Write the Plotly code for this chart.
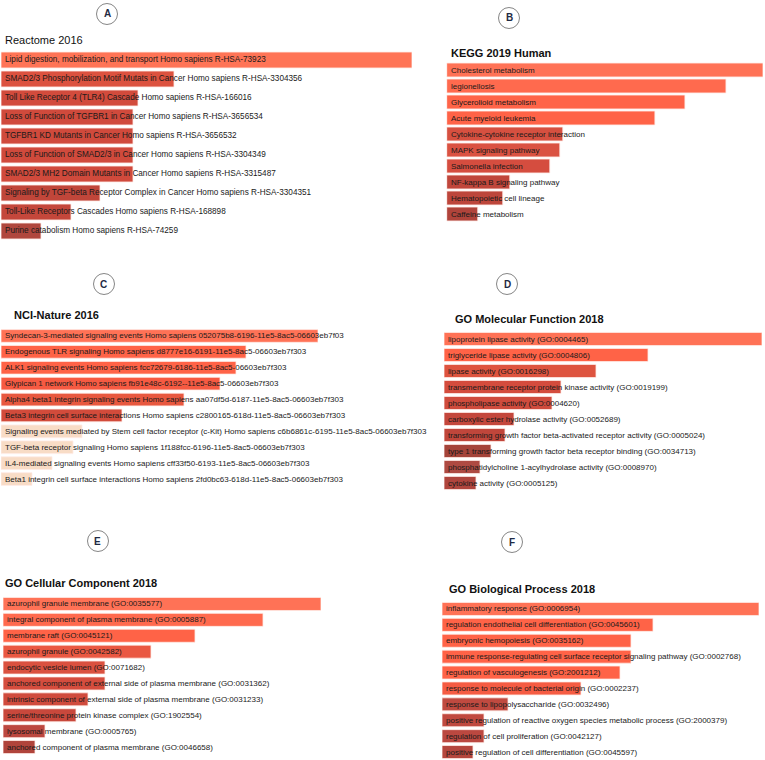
import plotly.graph_objects as go

W, H = 765, 760

# ---------------- DATA ----------------
reactome_terms = [
    "Lipid digestion, mobilization, and transport Homo sapiens R-HSA-73923",
    "SMAD2/3 Phosphorylation Motif Mutats in Cancer Homo sapiens R-HSA-3304356",
    "Toll Like Receptor 4 (TLR4) Cascade Homo sapiens R-HSA-166016",
    "Loss of Function of TGFBR1 in Cancer Homo sapiens R-HSA-3656534",
    "TGFBR1 KD Mutants in Cancer Homo sapiens R-HSA-3656532",
    "Loss of Function of SMAD2/3 in Cancer Homo sapiens R-HSA-3304349",
    "SMAD2/3 MH2 Domain Mutants in Cancer Homo sapiens R-HSA-3315487",
    "Signaling by TGF-beta Receptor Complex in Cancer Homo sapiens R-HSA-3304351",
    "Toll-Like Receptors Cascades Homo sapiens R-HSA-168898",
    "Purine catabolism Homo sapiens R-HSA-74259",
]
reactome_scores = [411, 173, 137, 132, 132, 132, 132, 99, 70, 40]

kegg_terms = [
    "Cholesterol metabolism",
    "legionellosis",
    "Glycerolioid metabolism",
    "Acute myeloid leukemia",
    "Cytokine-cytokine receptor interaction",
    "MAPK signaling pathway",
    "Salmonella infection",
    "NF-kappa B signaling pathway",
    "Hematopoietic cell lineage",
    "Caffeine metabolism",
]
kegg_scores = [316, 279, 238, 208, 116, 113, 103, 63, 56, 31]

nci_terms = [
    "Syndecan-3-mediated signaling events Homo sapiens 052075b8-6196-11e5-8ac5-06603eb7f03",
    "Endogenous TLR signaling Homo sapiens d8777e16-6191-11e5-8ac5-06603eb7f303",
    "ALK1 signaling events Homo sapiens fcc72679-6186-11e5-8ac5-06603eb7f303",
    "Glypican 1 network Homo sapiens fb91e48c-6192--11e5-8ac5-06603eb7f303",
    "Alpha4 beta1 integrin signaling events Homo sapiens aa07df5d-6187-11e5-8ac5-06603eb7f303",
    "Beta3 integrin cell surface interactions Homo sapiens c2800165-618d-11e5-8ac5-06603eb7f303",
    "Signaling events mediated by Stem cell factor receptor (c-Kit) Homo sapiens c6b6861c-6195-11e5-8ac5-06603eb7f303",
    "TGF-beta receptor signaling Homo sapiens 1f188fcc-6196-11e5-8ac5-06603eb7f303",
    "IL4-mediated signaling events Homo sapiens cff33f50-6193-11e5-8ac5-06603eb7f303",
    "Beta1 integrin cell surface interactions Homo sapiens 2fd0bc63-618d-11e5-8ac5-06603eb7f303",
]
nci_scores = [317, 245, 235, 219, 183, 121, 81, 72, 51, 31]

gomf_terms = [
    "lipoprotein lipase activity (GO:0004465)",
    "triglyceride lipase activity (GO:0004806)",
    "lipase activity (GO:0016298)",
    "transmembrane receptor protein kinase activity (GO:0019199)",
    "phospholipase activity (GO:0004620)",
    "carboxylic ester hydrolase activity (GO:0052689)",
    "transforming growth factor beta-activated receptor activity (GO:0005024)",
    "type 1 transforming growth factor beta receptor binding (GO:0034713)",
    "phosphatidylcholine 1-acylhydrolase activity (GO:0008970)",
    "cytokine activity (GO:0005125)",
]
gomf_scores = [318, 204, 152, 117, 108, 70, 61, 47, 36, 32]

gocc_terms = [
    "azurophil granule membrane (GO:0035577)",
    "integral component of plasma membrane (GO:0005887)",
    "membrane raft (GO:0045121)",
    "azurophil granule (GO:0042582)",
    "endocytic vesicle lumen (GO:0071682)",
    "anchored component of external side of plasma membrane (GO:0031362)",
    "intrinsic component of external side of plasma membrane (GO:0031233)",
    "serine/threonine protein kinase complex (GO:1902554)",
    "lysosomal membrane (GO:0005765)",
    "anchored component of plasma membrane (GO:0046658)",
]
gocc_scores = [318, 260, 192, 148, 102, 102, 85, 73, 42, 32]

gobp_terms = [
    "inflammatory response (GO:0006954)",
    "regulation endothelial cell differentiation (GO:0045601)",
    "embryonic hemopoiesis (GO:0035162)",
    "immune response-regulating cell surface receptor signaling pathway (GO:0002768)",
    "regulation of vasculogenesis (GO:2001212)",
    "response to molecule of bacterial origin (GO:0002237)",
    "response to lipopolysaccharide (GO:0032496)",
    "positive regulation of reactive oxygen species metabolic process (GO:2000379)",
    "regulation of cell proliferation (GO:0042127)",
    "positive regulation of cell differentiation (GO:0045597)",
]
gobp_scores = [317, 211, 189, 189, 178, 139, 66, 42, 42, 31]

panel_letters = ["A", "B", "C", "D", "E", "F"]
panel_titles = ["Reactome 2016", "KEGG 2019 Human", "NCI-Nature 2016",
                "GO Molecular Function 2018", "GO Cellular Component 2018",
                "GO Biological Process 2018"]

# ---------------- STYLE / LAYOUT ----------------
colors_A = ["#FF7456", "#DC523F", "#D24B3C", "#D04A3C", "#D04A3C", "#D04A3C",
            "#D04A3C", "#C0463A", "#C4473B", "#B0473D"]
colors_B = ["#FF7256", "#FF6A4E", "#FF6448", "#FF6347", "#D65040", "#DA5242",
            "#D54D3F", "#C0463B", "#BD463B", "#B0443B"]
colors_C = ["#FF7256", "#FF6347", "#FF6347", "#F65A42", "#E8583F", "#D24B3B",
            "#F8DCC6", "#F8DCC6", "#F8DCC6", "#F8DCC6"]
colors_D = ["#FF7256", "#FF6347", "#DE543F", "#D44C3D", "#CF4B3D", "#C4473C",
            "#C0463B", "#A5443A", "#AE4A42", "#B0453D"]
colors_E = ["#FF7256", "#FF6A4E", "#FF6347", "#EA5842", "#DA513F", "#D54D3E",
            "#D04B3D", "#C8483C", "#BC4840", "#B0443B"]
colors_F = ["#FF7256", "#FF6347", "#FF6347", "#FF6347", "#FF6347", "#F55C43",
            "#C04A40", "#C0493F", "#BB4840", "#B5463D"]

panels = [
    dict(terms=reactome_terms, scores=reactome_scores, colors=colors_A,
         x0=1, x1=412, ytop=50.5, ybot=240.5, gap=0.16, fs=8.2,
         title_xy=(3, 40), title_bold=False, circ=(107, 14)),
    dict(terms=kegg_terms, scores=kegg_scores, colors=colors_B,
         x0=446.7, x1=763, ytop=62, ybot=222, gap=0.13, fs=8,
         title_xy=(449, 53), title_bold=True, circ=(509, 18)),
    dict(terms=nci_terms, scores=nci_scores, colors=colors_C,
         x0=1, x1=318, ytop=328, ybot=487, gap=0.2, fs=8,
         title_xy=(12, 315), title_bold=True, circ=(104, 284)),
    dict(terms=gomf_terms, scores=gomf_scores, colors=colors_D,
         x0=444, x1=762, ytop=331, ybot=491, gap=0.18, fs=8,
         title_xy=(453, 319), title_bold=True, circ=(507, 284)),
    dict(terms=gocc_terms, scores=gocc_scores, colors=colors_E,
         x0=3, x1=321, ytop=596, ybot=755, gap=0.18, fs=8,
         title_xy=(3, 583), title_bold=True, circ=(98, 541)),
    dict(terms=gobp_terms, scores=gobp_scores, colors=colors_F,
         x0=442, x1=759, ytop=601, ybot=760, gap=0.18, fs=8,
         title_xy=(447, 589), title_bold=True, circ=(512, 542)),
]

FONT = "Liberation Sans, Arial, Helvetica, sans-serif"

def px(x):
    return x / W

def py(y):
    return 1 - y / H

fig = go.Figure()
annotations = []
shapes = []
layout_axes = {}

for i, p in enumerate(panels, start=1):
    xa = "x" if i == 1 else f"x{i}"
    ya = "y" if i == 1 else f"y{i}"
    fig.add_trace(go.Bar(
        x=p["scores"], y=p["terms"], orientation="h",
        width=1 - p["gap"],
        marker=dict(color=p["colors"], line=dict(color="rgba(255,235,230,0.8)", width=1)),
        xaxis=xa, yaxis=ya, showlegend=False, hoverinfo="x+y",
    ))
    n = len(p["terms"])
    layout_axes[f"xaxis{i}" if i > 1 else "xaxis"] = dict(
        domain=[px(p["x0"]), px(p["x1"])], range=[0, max(p["scores"])],
        visible=False, anchor=ya, fixedrange=True)
    layout_axes[f"yaxis{i}" if i > 1 else "yaxis"] = dict(
        domain=[py(p["ybot"]), py(p["ytop"])], type="category",
        categoryorder="array", categoryarray=p["terms"],
        range=[n - 0.5, -0.5], visible=False, anchor=xa, fixedrange=True)
    for t in p["terms"]:
        annotations.append(dict(
            x=0, y=t, xref=xa, yref=ya, text=t, showarrow=False,
            xanchor="left", yanchor="middle", xshift=2,
            font=dict(family=FONT, size=p["fs"], color="#1a1a1a")))
    tx, ty = p["title_xy"]
    title_text = f"<b>{panel_titles[i-1]}</b>" if p["title_bold"] else panel_titles[i-1]
    annotations.append(dict(
        x=px(tx), y=py(ty), xref="paper", yref="paper", text=title_text,
        showarrow=False, xanchor="left", yanchor="middle",
        font=dict(family=FONT, size=11, color="#111111")))
    cx, cy = p["circ"]
    r = 10.5
    shapes.append(dict(type="circle", xref="paper", yref="paper",
                       x0=px(cx - r), x1=px(cx + r), y0=py(cy + r), y1=py(cy - r),
                       line=dict(color="#666666", width=0.8)))
    annotations.append(dict(
        x=px(cx), y=py(cy), xref="paper", yref="paper",
        text=f"<b>{panel_letters[i-1]}</b>", showarrow=False,
        xanchor="center", yanchor="middle",
        font=dict(family=FONT, size=10, color="#1f2a44")))

fig.update_layout(
    width=W, height=H, margin=dict(l=0, r=0, t=0, b=0),
    paper_bgcolor="white", plot_bgcolor="rgba(0,0,0,0)",
    annotations=annotations, shapes=shapes,
    showlegend=False, **layout_axes,
)

fig.write_html("out.html", config={"displayModeBar": False},
               post_script="document.body.style.margin='0';document.body.style.overflow='hidden';")
